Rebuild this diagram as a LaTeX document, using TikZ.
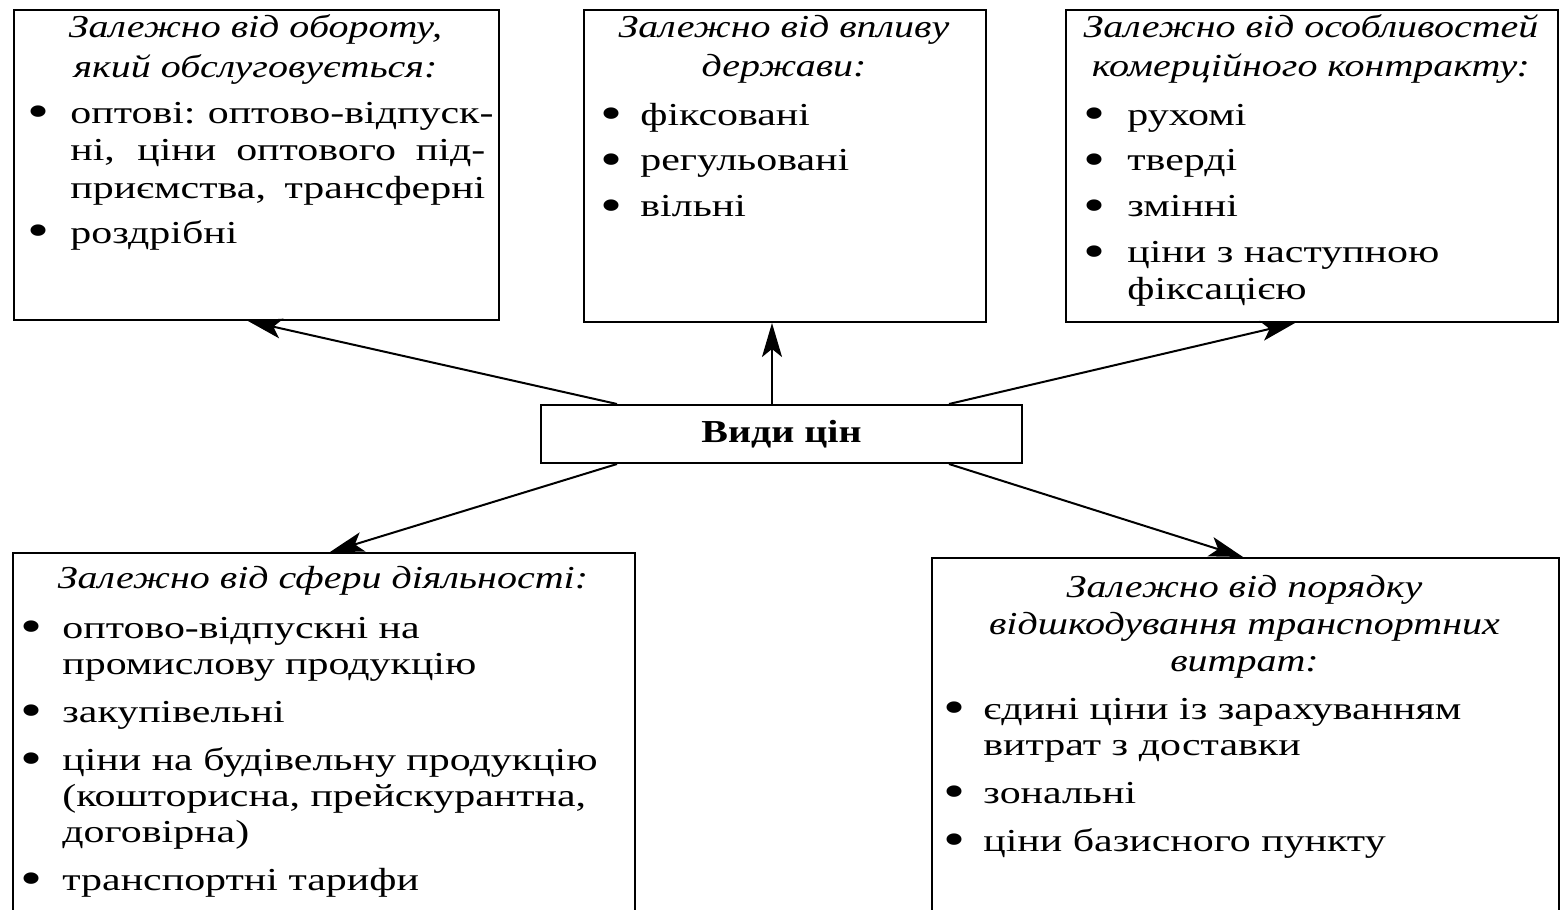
\documentclass[tikz,border=0pt]{standalone}
\usepackage{fontspec}
\usepackage{graphicx}
\setmainfont{Liberation Serif}[UprightFeatures={FakeStretch=1.31}, ItalicFeatures={FakeStretch=1.25}, BoldFeatures={FakeStretch=1.25}, BoldItalicFeatures={FakeStretch=1.25}]
\usetikzlibrary{arrows.meta}
\newlength{\bcol}
\newcommand{\bdot}{\raisebox{-2pt}{\scalebox{1.5}{\textbullet}}}
\newcommand{\bul}[1]{\par\noindent\hangindent=\bcol\hangafter=1\makebox[\bcol][l]{\hspace{-2pt}\bdot}\ignorespaces#1}
\newcommand{\jl}[1]{\makebox[\dimexpr\linewidth-\bcol\relax][s]{#1}}
\begin{document}
\begin{tikzpicture}[x=0.5pt,y=-0.5pt,
  box/.style={draw, line width=1pt, inner sep=0pt, anchor=north west},
  arr/.style={line width=1pt, -{Stealth[length=17pt,width=10pt,inset=4pt]}},
  hd/.style={anchor=base, inner sep=0pt, font=\fontsize{16pt}{18.5pt}\selectfont\itshape},
  it/.style={anchor=base west, inner sep=0pt, font=\fontsize{16pt}{18.5pt}\selectfont}]
\useasboundingbox (0,0) rectangle (1560,910);
\clip (0,0) rectangle (1560,910);
\fill[white] (0,0) rectangle (1560,910);

% boxes
\node[box, minimum width=242.5pt, minimum height=155pt] (b1) at (13,9) {};
\node[box, minimum width=201pt, minimum height=156pt] (b2) at (583,9) {};
\node[box, minimum width=246pt, minimum height=156pt] (b3) at (1065,9) {};
\node[box, minimum width=311pt, minimum height=200pt] (b4) at (12,552) {};
\node[box, minimum width=313.5pt, minimum height=200pt] (b5) at (931,557) {};
\node[box, minimum width=240.5pt, minimum height=29pt, font=\fontsize{16pt}{18pt}\selectfont\bfseries] (c) at (540,404) {Види цін};

% box 1
\node[hd] (h1) at (255.5,38) {\begin{minipage}[t]{235pt}\centering Залежно від обороту,\\[1.5pt] який обслуговується:\end{minipage}};
\node[it] (t1) at (31,123) {\begin{minipage}[t]{227pt}\fontsize{16pt}{18.75pt}\selectfont\setlength{\bcol}{19.5pt}%
\bul{\jl{оптові: оптово-відпуск-}\\\jl{ні, ціни оптового під-}\\\jl{приємства, трансферні}}\par\vspace{3.75pt}
\bul{роздрібні}\end{minipage}};

% box 2
\node[hd] (h2) at (784,37) {\begin{minipage}[t]{195pt}\centering Залежно від впливу\\[1.5pt] держави:\end{minipage}};
\node[it] (t2) at (604,125) {\begin{minipage}[t]{185pt}\setlength{\bcol}{18pt}%
\bul{фіксовані}\par\vspace{4.5pt}
\bul{регульовані}\par\vspace{4.5pt}
\bul{вільні}\end{minipage}};

% box 3
\node[hd] (h3) at (1311,37) {\begin{minipage}[t]{240pt}\centering Залежно від особливостей\\[1.5pt] комерційного контракту:\end{minipage}};
\node[it] (t3) at (1087,125) {\begin{minipage}[t]{230pt}\setlength{\bcol}{20pt}%
\bul{рухомі}\par\vspace{4.5pt}
\bul{тверді}\par\vspace{4.5pt}
\bul{змінні}\par\vspace{4.5pt}
\bul{ціни з наступною\\фіксацією}\end{minipage}};

% box 4
\node[hd] (h4) at (323,588) {\begin{minipage}[t]{305pt}\centering Залежно від сфери діяльності:\end{minipage}};
\node[it] (t4) at (24,638) {\begin{minipage}[t]{302pt}\fontsize{16pt}{18pt}\selectfont\setlength{\bcol}{19pt}%
\bul{оптово-відпускні на\\промислову продукцію}\par\vspace{6pt}
\bul{закупівельні}\par\vspace{6pt}
\bul{ціни на будівельну продукцію\\(кошторисна, прейскурантна,\\договірна)}\par\vspace{6pt}
\bul{транспортні тарифи}\end{minipage}};

% box 5
\node[hd] (h5) at (1244.5,597) {\begin{minipage}[t]{305pt}\centering Залежно від порядку\\ відшкодування транспортних\\ витрат:\end{minipage}};
\node[it] (t5) at (947,719) {\begin{minipage}[t]{300pt}\fontsize{16pt}{18pt}\selectfont\setlength{\bcol}{18pt}%
\bul{єдині ціни із зарахуванням\\витрат з доставки}\par\vspace{6pt}
\bul{зональні}\par\vspace{6pt}
\bul{ціни базисного пункту}\end{minipage}};

% arrows
\draw[arr] ([xshift=38.5pt]c.north west) -- ([xshift=117.5pt]b1.south west);
\draw[arr] ([xshift=116pt]c.north west) -- ([xshift=94.5pt]b2.south west);
\draw[arr] ([xshift=-37pt]c.north east) -- ([xshift=115pt]b3.south west);
\draw[arr] ([xshift=38.5pt]c.south west) -- ([xshift=159pt]b4.north west);
\draw[arr] ([xshift=-37pt]c.south east) -- ([xshift=156pt]b5.north west);
\end{tikzpicture}
\end{document}
